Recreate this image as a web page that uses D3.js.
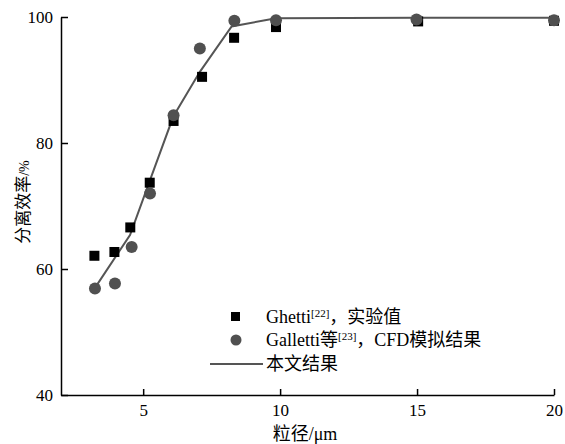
<!DOCTYPE html>
<html>
<head>
<meta charset="utf-8">
<script src="https://cdn.jsdelivr.net/npm/d3@7"></script>
<style>
    body { margin: 0; background: #fff; }
</style>
</head>
<body>
<div id="chart"></div>
<script>

// Ghetti experimental values (squares)
var ghetti_x = [3.22, 3.95, 4.53, 5.24, 6.11, 7.15, 8.32, 9.85, 15.04, 20.0];
var ghetti_y = [62.1, 62.7, 66.6, 73.7, 83.5, 90.5, 96.7, 98.4, 99.3, 99.4];

// Galletti CFD results (circles)
var galletti_x = [3.24, 3.97, 4.58, 5.25, 6.11, 7.07, 8.33, 9.85, 14.98, 20.0];
var galletti_y = [56.9, 57.7, 63.5, 72.0, 84.4, 95.0, 99.4, 99.5, 99.6, 99.5];

// this work (line)
var line_x = [3.24, 4.52, 5.24, 6.10, 7.07, 8.23, 9.85, 15, 20];
var line_y = [57.0, 65.4, 74.0, 84.2, 91.3, 98.5, 99.8, 99.9, 99.9];

var x_ticks = [5, 10, 15, 20];
var y_ticks = [40, 60, 80, 100];

var width = 565;
var height = 444;
var padding = {top: 17, bottom: 49, left: 61, right: 11};

var latin = 'Liberation Serif';
var cjk = 'Noto Sans CJK SC';

var svg = d3.select('#chart')
    .append('svg')
    .attr('width', width)
    .attr('height', height);

var x_scale = d3.scaleLinear()
    .domain([2, 20])
    .range([padding.left, width - padding.right]);

var y_scale = d3.scaleLinear()
    .domain([40, 100])
    .range([height - padding.bottom, padding.top]);

var x_axis = d3.axisBottom(x_scale)
    .tickValues(x_ticks)
    .tickSizeInner(-6)
    .tickSizeOuter(0)
    .tickPadding(9);

var y_axis = d3.axisLeft(y_scale)
    .tickValues(y_ticks)
    .tickSizeInner(-7)
    .tickSizeOuter(0)
    .tickPadding(8);

var gx = svg.append('g')
    .attr('transform', 'translate(0,' + (height - padding.bottom) + ')')
    .call(x_axis);

var gy = svg.append('g')
    .attr('transform', 'translate(' + padding.left + ',0)')
    .call(y_axis);

[gx, gy].forEach(function(g){
    g.attr('font-family', latin).attr('font-size', 17);
    g.select('.domain').attr('stroke', '#000').attr('stroke-width', 1.5);
    g.selectAll('.tick line').attr('stroke', '#000').attr('stroke-width', 1.5);
    g.selectAll('.tick text').attr('fill', '#000');
});

// line
var line_data = line_x.map(function(d, i){ return {x: d, y: line_y[i]}; });
svg.append('path')
    .datum(line_data)
    .attr('fill', 'none')
    .attr('stroke', '#555')
    .attr('stroke-width', 2)
    .attr('d', d3.line()
        .x(function(d){ return x_scale(d.x); })
        .y(function(d){ return y_scale(d.y); }));

// squares
var sq = 10;
svg.selectAll('rect.ghetti')
    .data(ghetti_x.map(function(d, i){ return {x: d, y: ghetti_y[i]}; }))
    .enter()
    .append('rect')
    .attr('class', 'ghetti')
    .attr('x', function(d){ return x_scale(d.x) - sq / 2; })
    .attr('y', function(d){ return y_scale(d.y) - sq / 2; })
    .attr('width', sq)
    .attr('height', sq)
    .attr('fill', '#000');

// circles
svg.selectAll('circle.galletti')
    .data(galletti_x.map(function(d, i){ return {x: d, y: galletti_y[i]}; }))
    .enter()
    .append('circle')
    .attr('class', 'galletti')
    .attr('cx', function(d){ return x_scale(d.x); })
    .attr('cy', function(d){ return y_scale(d.y); })
    .attr('r', 6)
    .attr('fill', '#505050');

// mixed-script text: each piece gets its own family
function addParts(text, parts) {
    parts.forEach(function(p){
        var t = text.append('tspan')
            .attr('font-family', p.cjk ? cjk : latin)
            .text(p.s);
        if (p.size) t.attr('font-size', p.size);
        if (p.dy) t.attr('dy', p.dy);
    });
}

// legend
var legend = svg.append('g').attr('font-size', 18);
legend.append('rect')
    .attr('x', 231).attr('y', 312)
    .attr('width', 9).attr('height', 9)
    .attr('fill', '#000');
legend.append('circle')
    .attr('cx', 236).attr('cy', 340)
    .attr('r', 5.5)
    .attr('fill', '#505050');
legend.append('line')
    .attr('x1', 210).attr('x2', 263)
    .attr('y1', 364).attr('y2', 364)
    .attr('stroke', '#555')
    .attr('stroke-width', 2);

addParts(legend.append('text').attr('x', 266).attr('y', 323), [
    {s: 'Ghetti'},
    {s: '[22]', size: 11, dy: -6},
    {s: '，实验值', cjk: true, dy: 6}
]);

addParts(legend.append('text').attr('x', 266).attr('y', 346), [
    {s: 'Galletti'},
    {s: '等', cjk: true},
    {s: '[23]', size: 11, dy: -6},
    {s: '，', cjk: true, dy: 6},
    {s: 'CFD'},
    {s: '模拟结果', cjk: true}
]);

addParts(legend.append('text').attr('x', 266).attr('y', 370), [
    {s: '本文结果', cjk: true}
]);

// axis labels
addParts(svg.append('text')
    .attr('x', 305).attr('y', 440)
    .attr('text-anchor', 'middle')
    .attr('font-size', 18), [
    {s: '粒径', cjk: true},
    {s: '/μm'}
]);

addParts(svg.append('text')
    .attr('transform', 'translate(29,202) rotate(-90)')
    .attr('text-anchor', 'middle')
    .attr('font-size', 17), [
    {s: '分离效率', cjk: true},
    {s: '/%', size: 14}
]);

</script>
</body>
</html>
